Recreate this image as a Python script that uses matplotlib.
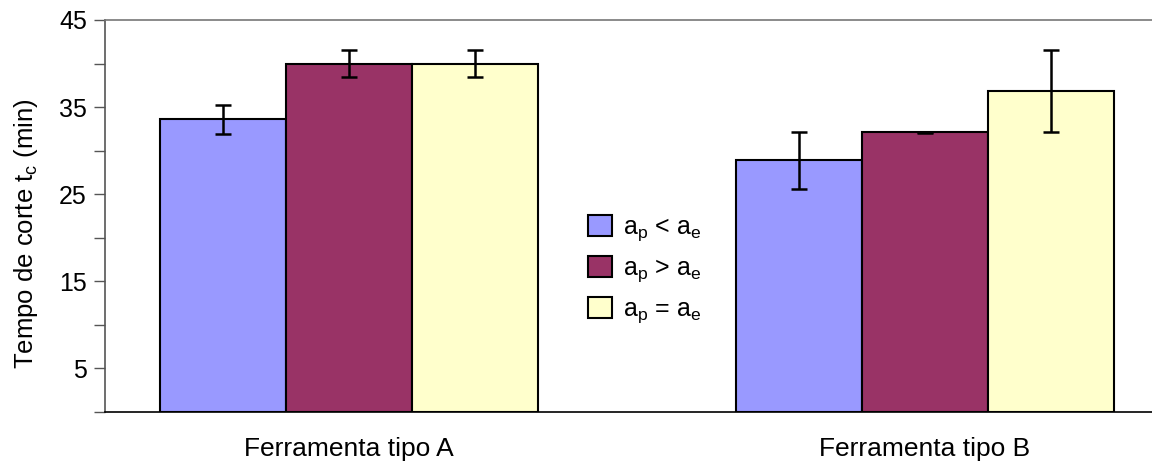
import matplotlib
matplotlib.use("Agg")
import matplotlib.pyplot as plt
import numpy as np

plt.rcParams['font.family'] = ['Liberation Sans', 'DejaVu Sans']
plt.rcParams['mathtext.fontset'] = 'custom'
plt.rcParams['mathtext.rm'] = 'Liberation Sans'
plt.rcParams['mathtext.it'] = 'Liberation Sans'

categories = ["Ferramenta tipo A", "Ferramenta tipo B"]
series_labels = [r"a$_\mathrm{p}$ < a$_\mathrm{e}$",
                 r"a$_\mathrm{p}$ > a$_\mathrm{e}$",
                 r"a$_\mathrm{p}$ = a$_\mathrm{e}$"]
values_lt = [33.6, 28.9]
values_gt = [40.0, 32.1]
values_eq = [40.0, 36.9]
err_lt = [1.65, 3.25]
err_gt = [1.6, 0.05]
err_eq = [1.6, 4.7]
colors = ["#9999FF", "#993366", "#FFFFCC"]

yticks_major = [5, 15, 25, 35, 45]
yticks_minor = [0, 10, 20, 30, 40]

W, H = 1152, 462
fig = plt.figure(figsize=(W / 100, H / 100), dpi=100)
ax = fig.add_axes([105 / W, (H - 412) / H, (W - 105) / W, 392 / H])

group_x = np.array([0.0, 4.571])
width = 1.0
series = [values_lt, values_gt, values_eq]
errs = [err_lt, err_gt, err_eq]
for i, (vals, e, c, lab) in enumerate(zip(series, errs, colors, series_labels)):
    x = group_x + (i - 1) * width
    ax.bar(x, vals, width=width, color=c, edgecolor="black", linewidth=1.5,
           label=lab, zorder=2)
    ax.errorbar(x, vals, yerr=e, fmt="none", ecolor="black", elinewidth=1.8,
                capsize=6, capthick=1.8, zorder=3)

ax.set_ylim(0, 45)
ax.set_xlim(-1.937, (W - 349) / 126)
ax.set_yticks(yticks_major)
ax.set_yticks(yticks_minor, minor=True)
ax.tick_params(axis='y', which='both', direction='out', length=8, width=1,
               color='#555555', labelsize=18, pad=5)
ax.set_xticks(group_x)
ax.set_xticklabels(categories, fontsize=19)
ax.tick_params(axis='x', which='major', length=0, pad=18)

ax.spines['right'].set_visible(False)
ax.spines['top'].set_color('#777777')
ax.spines['top'].set_linewidth(1.2)
ax.spines['left'].set_color('#555555')
ax.spines['left'].set_linewidth(1.2)
ax.spines['bottom'].set_color('black')
ax.spines['bottom'].set_linewidth(1.2)

ax.set_ylabel(r"Tempo de corte t$_\mathrm{c}$ (min)", fontsize=18.5)
ax.yaxis.set_label_coords((40 - 105) / (W - 105), (412 - 234) / 392)

leg = ax.legend(loc='center', bbox_to_anchor=((645 - 105) / (W - 105), (412 - 270) / 392),
                frameon=False, fontsize=18, handlelength=0.95, handleheight=0.95,
                labelspacing=0.5, handletextpad=0.45)

fig.savefig("out.png", dpi=100)
